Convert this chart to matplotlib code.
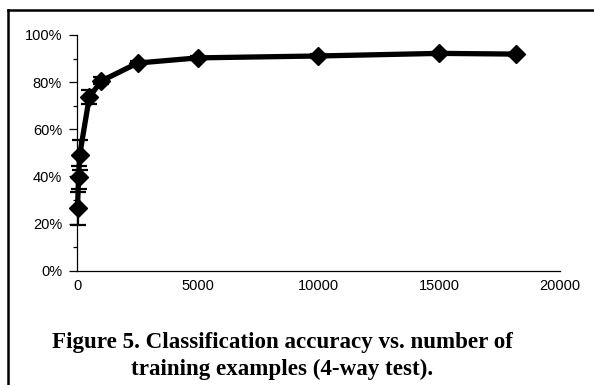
import matplotlib
matplotlib.use('Agg')
import matplotlib.pyplot as plt
from matplotlib.lines import Line2D
from matplotlib.ticker import MultipleLocator, PercentFormatter

# training examples vs. accuracy
n_examples = [10, 50, 100, 500, 1000, 2500, 5000, 10000, 15000, 18200]
accuracy = [0.265, 0.396, 0.491, 0.738, 0.805, 0.881, 0.903, 0.911, 0.922, 0.919]
err = [0.07, 0.05, 0.065, 0.03, 0.015, 0.01, 0.008, 0.008, 0.006, 0.006]

x_ticks = [0, 5000, 10000, 15000, 20000]
caption = "Figure 5. Classification accuracy vs. number of\ntraining examples (4-way test)."

fig = plt.figure(figsize=(5.94, 3.85), dpi=100)
ax = fig.add_axes([77.3 / 594, 1 - 270.7 / 385, (559.7 - 77.3) / 594, (270.7 - 35) / 385])

ax.errorbar(n_examples, accuracy, yerr=err, color='black', linewidth=3.8,
            marker='D', markersize=9, elinewidth=1.6, capsize=5.5, capthick=1.6,
            ecolor='black', clip_on=False)

ax.set_xlim(0, 20000)
ax.set_ylim(0, 1)
ax.set_xticks(x_ticks)
ax.yaxis.set_major_locator(MultipleLocator(0.2))
ax.yaxis.set_minor_locator(MultipleLocator(0.1))
ax.yaxis.set_major_formatter(PercentFormatter(1.0, decimals=0))

for s in ['top', 'right']:
    ax.spines[s].set_visible(False)
for s in ['left', 'bottom']:
    ax.spines[s].set_linewidth(0.9)

ax.tick_params(axis='y', which='major', direction='out', length=6, width=0.9,
               labelsize=10.5, pad=5)
ax.tick_params(axis='y', which='minor', direction='out', length=3, width=0.9)
ax.tick_params(axis='x', length=0, labelsize=10.5, pad=6)
for lbl in ax.get_xticklabels() + ax.get_yticklabels():
    lbl.set_family('Liberation Sans')

# frame lines around the figure (top and left only)
fig.add_artist(Line2D([7.5 / 594, 1], [1 - 10 / 385, 1 - 10 / 385],
                      transform=fig.transFigure, color='black', linewidth=1.8))
fig.add_artist(Line2D([7.5 / 594, 7.5 / 594], [0, 1 - 10 / 385],
                      transform=fig.transFigure, color='black', linewidth=1.8))

fig.text(282 / 594, 1 - 356 / 385, caption, ha='center', va='center',
         family='Liberation Serif', fontweight='bold', fontsize=16.6,
         linespacing=1.33)

fig.savefig('out.png', dpi=100)
